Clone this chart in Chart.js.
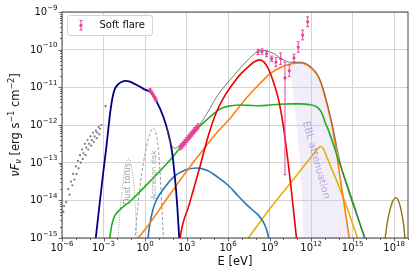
<!DOCTYPE html>
<html lang="en">
<head>
  <meta charset="UTF-8">
  <title>Soft flare SED</title>
  <script src="https://cdn.jsdelivr.net/npm/chart.js"></script>
  <style>
    html, body { margin: 0; padding: 0; background: #fff; }
  </style>
</head>
<body>
  <canvas id="sedChart" width="415" height="277"></canvas>

  <script>
    // every pair is [log10(E / eV), log10(nuFnu / erg s^-1 cm^-2)]
    const syncCurve = [[-3.62,-15.2],[-3.3,-14.15],[-3.0,-13.2],[-2.8,-12.6],[-2.65,-12.1],[-2.5,-11.62],[-2.35,-11.27],[-2.2,-11.06],[-2.0,-10.94],[-1.7,-10.86],[-1.4,-10.83],[-1.1,-10.85],[-0.7,-10.92],[-0.3,-11.0],[0.0,-11.06],[0.4,-11.13],[0.84,-11.38],[1.32,-11.78],[1.68,-12.22],[1.93,-12.66],[2.16,-13.4],[2.33,-14.16],[2.5,-15.2]];
    const greenCurve = [[-2.7,-15.3],[-2.55,-15.0],[-2.4,-14.65],[-2.2,-14.42],[-1.9,-14.28],[-1.5,-14.15],[-1.0,-14.0],[0.0,-13.63],[1.0,-13.25],[2.0,-12.85],[2.76,-12.5],[3.5,-12.2],[4.2,-11.95],[4.8,-11.75],[5.2,-11.63],[5.7,-11.53],[6.2,-11.49],[6.9,-11.47],[7.5,-11.48],[8.3,-11.49],[9.0,-11.47],[9.75,-11.45],[10.5,-11.44],[11.2,-11.44],[11.9,-11.46],[12.3,-11.5],[12.64,-11.6],[12.85,-11.75],[13.0,-11.92],[13.24,-12.13],[14.0,-12.95],[14.57,-13.56],[15.2,-14.25],[15.95,-15.1]];
    const redCurve = [[2.45,-15.3],[2.53,-15.0],[3.2,-14.1],[3.97,-13.1],[4.6,-12.25],[5.18,-11.64],[5.8,-11.2],[6.38,-10.89],[6.9,-10.65],[7.35,-10.49],[7.9,-10.32],[8.3,-10.27],[8.6,-10.33],[8.9,-10.5],[9.27,-10.85],[9.63,-11.3],[9.87,-11.75],[10.1,-12.3],[10.5,-13.5],[11.0,-15.2]];
    const orangeCurve = [[-0.6,-15.05],[0.36,-14.6],[1.5,-14.0],[2.76,-13.35],[4.0,-12.75],[5.2,-12.2],[6.2,-11.8],[7.1,-11.38],[8.3,-10.9],[9.0,-10.65],[9.75,-10.48],[10.5,-10.38],[11.2,-10.35],[11.7,-10.4],[12.0,-10.49],[12.4,-10.65],[12.7,-10.88],[13.0,-11.25],[13.3,-11.68],[13.55,-12.1],[14.2,-13.65],[14.8,-15.1]];
    const blueCurve = [[0.15,-15.2],[0.3,-14.75],[0.5,-14.35],[0.75,-14.05],[1.1,-13.82],[1.6,-13.57],[2.2,-13.34],[3.0,-13.18],[3.8,-13.14],[4.5,-13.21],[5.2,-13.37],[6.0,-13.6],[6.7,-13.87],[7.3,-14.1],[7.8,-14.27],[8.2,-14.4],[8.55,-14.58],[8.8,-14.8],[9.0,-15.1]];
    const yellowCurve = [[7.3,-15.08],[7.46,-15.0],[9.0,-14.23],[10.6,-13.5],[12.0,-12.85],[12.45,-12.64],[12.7,-12.57],[12.9,-12.64],[13.12,-12.84],[14.3,-13.9],[15.4,-15.05]];
    const yellowBump = [[17.3,-15.1],[17.5,-14.6],[17.7,-14.25],[17.9,-14.02],[18.13,-13.93],[18.35,-14.05],[18.55,-14.35],[18.7,-14.7],[18.8,-15.1]];
    const totalCurve = [[1.55,-12.05],[1.75,-12.37],[1.95,-12.56],[2.16,-12.62],[2.4,-12.57],[2.76,-12.46],[3.3,-12.27],[3.9,-12.02],[4.5,-11.68],[5.18,-11.25],[5.8,-10.95],[6.38,-10.7],[7.0,-10.44],[7.58,-10.22],[8.0,-10.08],[8.31,-10.02],[8.8,-10.04],[9.27,-10.1],[9.75,-10.22],[10.2,-10.31],[10.8,-10.34],[11.2,-10.33],[11.7,-10.38],[12.0,-10.46],[12.4,-10.62],[12.7,-10.85],[13.0,-11.2],[13.3,-11.62],[13.6,-12.1],[14.1,-13.0],[14.6,-13.65],[15.2,-14.3],[15.7,-14.8],[16.05,-15.1]];
    const totalBump = [[17.33,-15.1],[17.5,-14.6],[17.7,-14.25],[17.9,-14.02],[18.13,-13.93],[18.35,-14.05],[18.55,-14.35],[18.7,-14.7],[18.8,-15.1]];
    const dustTorus = [[-2.0,-15.2],[-1.8,-14.3],[-1.6,-13.55],[-1.4,-13.05],[-1.2,-12.9],[-1.05,-12.98],[-0.9,-13.3],[-0.75,-13.9],[-0.62,-14.7],[-0.55,-15.2]];
    const accretionDisk = [[-0.78,-15.2],[-0.5,-14.1],[-0.25,-13.3],[0.0,-12.78],[0.2,-12.42],[0.45,-12.15],[0.6,-12.08],[0.75,-12.17],[0.95,-12.6],[1.1,-13.35],[1.2,-14.05],[1.35,-15.2]];
    // left edge of the EBL band (the right edge is the orange curve)
    const eblEdge = [[10.45,-10.4],[10.6,-10.85],[10.8,-11.5],[11.0,-12.2],[11.2,-12.93],[11.35,-14.0],[11.47,-15.3]];
    const archival = [[-5.9,-14.3],[-5.85,-14.15],[-5.7,-14.05],[-5.55,-13.7],[-5.45,-13.85],[-5.35,-13.5],[-5.25,-13.6],[-5.2,-13.3],[-5.1,-13.45],[-5.0,-13.1],[-4.95,-13.3],[-4.85,-12.95],[-4.8,-13.15],[-4.7,-12.8],[-4.65,-13.0],[-4.55,-12.65],[-4.5,-12.9],[-4.45,-12.75],[-4.35,-12.5],[-4.3,-12.8],[-4.25,-12.6],[-4.15,-12.4],[-4.1,-12.65],[-4.05,-12.5],[-3.95,-12.3],[-3.9,-12.55],[-3.85,-12.4],[-3.75,-12.2],[-3.7,-12.45],[-3.65,-12.3],[-3.55,-12.15],[-3.5,-12.35],[-3.45,-12.2],[-3.35,-12.05],[-3.3,-12.25],[-3.25,-12.1],[-3.15,-12.0],[-2.85,-11.5]];
    // soft flare data: [logE, logF, error down (dex), error up (dex)]
    const flarePoints = [
      [0.36,-11.07,0.03,0.03],[0.45,-11.12,0.03,0.03],[0.55,-11.17,0.03,0.03],[0.63,-11.23,0.03,0.03],[0.72,-11.28,0.03,0.03],[0.8,-11.34,0.03,0.03],
      [2.55,-12.6,0.06,0.06],[2.62,-12.56,0.06,0.06],[2.68,-12.55,0.06,0.06],[2.74,-12.51,0.06,0.06],[2.8,-12.5,0.06,0.06],[2.86,-12.45,0.06,0.06],[2.92,-12.45,0.06,0.06],[2.98,-12.4,0.06,0.06],[3.04,-12.39,0.06,0.06],[3.1,-12.35,0.06,0.06],[3.16,-12.34,0.06,0.06],[3.22,-12.3,0.06,0.06],[3.28,-12.28,0.06,0.06],[3.34,-12.24,0.06,0.06],[3.4,-12.23,0.06,0.06],[3.46,-12.19,0.06,0.06],[3.52,-12.17,0.06,0.06],[3.58,-12.13,0.06,0.06],[3.64,-12.12,0.06,0.06],[3.7,-12.08,0.06,0.06],[3.77,-12.07,0.06,0.06],[3.83,-12.03,0.06,0.06],
      [8.16,-10.06,0.07,0.07],[8.45,-10.05,0.07,0.07],[8.78,-10.11,0.08,0.08],[9.15,-10.24,0.07,0.07],[9.46,-10.33,0.12,0.12],[9.8,-10.24,0.15,0.15],[10.11,-10.75,2.57,0.42],[10.42,-10.56,0.15,0.15],[10.76,-10.22,0.1,0.1],[11.07,-9.93,0.14,0.14],[11.39,-9.61,0.13,0.13],[11.75,-9.26,0.13,0.13]
    ];
    const xTickExps = [-6, -3, 0, 3, 6, 9, 12, 15, 18];
    const yTickExps = [-15, -14, -13, -12, -11, -10, -9];

    const flareColor = '#e6459a';
    const FONT = '"DejaVu Sans", sans-serif';
    const toXY = arr => arr.map(p => ({ x: 10 ** p[0], y: 10 ** p[1] }));
    const eblShape = eblEdge.concat(orangeCurve.filter(p => p[0] > eblEdge[0][0]).reverse());

    function curve(data, color, width, order, extra) {
      return Object.assign({
        data: toXY(data), borderColor: color, borderWidth: width, pointRadius: 0,
        fill: false, tension: 0.4, cubicInterpolationMode: 'monotone', clip: 0, order: order
      }, extra || {});
    }

    // "10" with a raised exponent, like the mathtext labels
    function drawPow(ctx, exp, x, y, align) {
      const base = '10', ex = String(exp).replace('-', '\u2212');
      ctx.font = '10px ' + FONT;
      const w1 = ctx.measureText(base).width;
      ctx.font = '7px ' + FONT;
      const w2 = ctx.measureText(ex).width;
      let x0 = align === 'right' ? x - w1 - w2 : x - (w1 + w2) / 2;
      ctx.textAlign = 'left';
      ctx.textBaseline = 'middle';
      ctx.font = '10px ' + FONT;
      ctx.fillText(base, x0, y);
      ctx.font = '7px ' + FONT;
      ctx.fillText(ex, x0 + w1, y - 4.5);
    }

    function drawRotated(ctx, text, x, y, angle, font, color) {
      ctx.save();
      ctx.translate(x, y);
      ctx.rotate(angle);
      ctx.font = font;
      ctx.fillStyle = color;
      ctx.textAlign = 'center';
      ctx.textBaseline = 'middle';
      ctx.fillText(text, 0, 0);
      ctx.restore();
    }

    const decorations = {
      id: 'decorations',
      afterDatasetsDraw(chart) {
        const { ctx, chartArea: a, scales: { x, y } } = chart;
        ctx.save();
        ctx.beginPath();
        ctx.rect(a.left, a.top, a.right - a.left, a.bottom - a.top);
        ctx.clip();
        // error bars of the flare data
        ctx.strokeStyle = flareColor;
        ctx.lineWidth = 1;
        flarePoints.forEach(p => {
          const px = x.getPixelForValue(10 ** p[0]);
          const top = y.getPixelForValue(10 ** (p[1] + p[3]));
          const bot = y.getPixelForValue(10 ** (p[1] - p[2]));
          ctx.beginPath();
          ctx.moveTo(px, top); ctx.lineTo(px, bot);
          ctx.moveTo(px - 1.5, top); ctx.lineTo(px + 1.5, top);
          ctx.moveTo(px - 1.5, bot); ctx.lineTo(px + 1.5, bot);
          ctx.stroke();
        });
        drawRotated(ctx, 'Dust torus', 127.5, 184, -Math.PI / 2, '8px ' + FONT, '#a0a0a0');
        drawRotated(ctx, 'Accretion disk', 154.5, 175, -Math.PI / 2, '7px ' + FONT, '#a0a0a0');
        drawRotated(ctx, 'EBL attenuation', 316, 160, 74.5 * Math.PI / 180, '10px ' + FONT, 'rgba(160,135,215,0.7)');
        ctx.restore();
      },
      afterDraw(chart) {
        const { ctx, chartArea: a, scales: { x, y } } = chart;
        ctx.save();
        // frame
        ctx.strokeStyle = '#444';
        ctx.lineWidth = 1;
        ctx.strokeRect(a.left, a.top, a.right - a.left, a.bottom - a.top);
        // ticks
        ctx.lineWidth = 0.8;
        for (let e = -6; e <= 19; e++) {
          const px = Math.round(x.getPixelForValue(10 ** e)) + 0.5;
          const len = xTickExps.includes(e) ? 3.5 : 2;
          ctx.beginPath(); ctx.moveTo(px, a.bottom); ctx.lineTo(px, a.bottom + len); ctx.stroke();
        }
        for (let e = -15; e < -9; e++) {
          for (let m = 1; m < 10; m++) {
            const py = Math.round(y.getPixelForValue(m * 10 ** e)) + 0.5;
            const len = m === 1 ? 3.5 : 2;
            ctx.beginPath(); ctx.moveTo(a.left, py); ctx.lineTo(a.left - len, py); ctx.stroke();
          }
        }
        const pyTop = Math.round(y.getPixelForValue(1e-9)) + 0.5;
        ctx.beginPath(); ctx.moveTo(a.left, pyTop); ctx.lineTo(a.left - 3.5, pyTop); ctx.stroke();
        // tick labels
        ctx.fillStyle = '#111';
        xTickExps.forEach(e => drawPow(ctx, e, x.getPixelForValue(10 ** e), 248.5, 'center'));
        yTickExps.forEach(e => drawPow(ctx, e, 57.5, y.getPixelForValue(10 ** e) + 0.5, 'right'));
        // axis titles
        ctx.font = '11.5px ' + FONT;
        ctx.textAlign = 'center';
        ctx.textBaseline = 'middle';
        ctx.fillText('E [eV]', (a.left + a.right) / 2, 262);

        ctx.translate(16, 125);
        ctx.rotate(-Math.PI / 2);
        const parts = [
          ['\u03BDF', 'italic 11.5px ' + FONT, 0],
          ['\u03BD', 'italic 8px ' + FONT, 2.5],
          [' [erg s', '11.5px ' + FONT, 0],
          ['\u22121', '8px ' + FONT, -4.5],
          [' cm', '11.5px ' + FONT, 0],
          ['\u22122', '8px ' + FONT, -4.5],
          [']', '11.5px ' + FONT, 0]
        ];
        let total = 0;
        parts.forEach(p => { ctx.font = p[1]; total += ctx.measureText(p[0]).width; });
        let cx = -total / 2;
        ctx.textAlign = 'left';
        parts.forEach(p => { ctx.font = p[1]; ctx.fillText(p[0], cx, p[2]); cx += ctx.measureText(p[0]).width; });
        ctx.restore();

        // legend
        ctx.save();
        const lx = 67.5, ly = 15.5, lw = 85, lh = 20;
        ctx.beginPath();
        ctx.roundRect(lx, ly, lw, lh, 2.5);
        ctx.fillStyle = 'rgba(255,255,255,0.85)';
        ctx.fill();
        ctx.strokeStyle = '#d4d4d4';
        ctx.lineWidth = 1;
        ctx.stroke();
        ctx.strokeStyle = flareColor;
        ctx.beginPath();
        ctx.moveTo(81, 20.5); ctx.lineTo(81, 30);
        ctx.moveTo(79.5, 20.5); ctx.lineTo(82.5, 20.5);
        ctx.moveTo(79.5, 30); ctx.lineTo(82.5, 30);
        ctx.stroke();
        ctx.fillStyle = flareColor;
        ctx.beginPath(); ctx.arc(81, 25.3, 1.6, 0, Math.PI * 2); ctx.fill();
        ctx.fillStyle = '#111';
        ctx.font = '10px ' + FONT;
        ctx.textAlign = 'left';
        ctx.textBaseline = 'middle';
        ctx.fillText('Soft flare', 99.5, 25.5);
        ctx.restore();
      }
    };

    const datasets = [
      { data: toXY(flarePoints), showLine: false, pointRadius: 1.6, pointBackgroundColor: flareColor, pointBorderWidth: 0, clip: 0, order: 0 },
      curve(totalCurve, '#555', 0.8, 1),
      curve(totalBump, '#555', 0.8, 1),
      curve(syncCurve, '#000080', 1.8, 2),
      curve(redCurve, '#ee0000', 1.6, 3),
      curve(greenCurve, '#22b022', 1.6, 4),
      curve(orangeCurve, '#ff7f0e', 1.6, 5),
      curve(blueCurve, '#1f77b4', 1.6, 6),
      curve(yellowCurve, '#dfb200', 1.5, 7),
      curve(yellowBump, '#dfb200', 1.5, 7),
      curve(dustTorus, '#9a9a9a', 1, 8, { borderDash: [1, 1.5] }),
      curve(accretionDisk, '#9a9a9a', 1, 8, { borderDash: [3, 2] }),
      { data: toXY(archival), showLine: false, pointRadius: 1.1, pointBackgroundColor: '#7a7a7a', pointBorderWidth: 0, clip: 0, order: 8 },
      { data: toXY(eblShape), borderWidth: 0, pointRadius: 0, tension: 0, fill: 'shape', backgroundColor: 'rgba(205,195,232,0.28)', clip: 0, order: 9 }
    ];

    function logAxis(min, max, exps, gridColor) {
      return {
        type: 'logarithmic', min: min, max: max,
        ticks: { display: false },
        grid: { color: gridColor, lineWidth: 1, drawTicks: false },
        border: { display: false },
        afterBuildTicks: axis => { axis.ticks = exps.map(e => ({ value: 10 ** e })); }
      };
    }

    const xAxis = logAxis(1e-6, 1e19, xTickExps, '#d4d4d4');
    xAxis.afterFit = s => { s.height = 39; };
    const yAxis = logAxis(1e-15, 1e-9, yTickExps, '#d4d4d4');
    yAxis.afterFit = s => { s.width = 62; };

    new Chart(document.getElementById('sedChart'), {
      type: 'line',
      data: { datasets: datasets },
      options: {
        responsive: false,
        animation: false,
        devicePixelRatio: 1,
        events: [],
        parsing: true,
        layout: { padding: { top: 12, right: 7, left: 0, bottom: 0 } },
        plugins: { legend: { display: false }, tooltip: { enabled: false } },
        scales: { x: xAxis, y: yAxis }
      },
      plugins: [decorations]
    });
  </script>
</body>
</html>
